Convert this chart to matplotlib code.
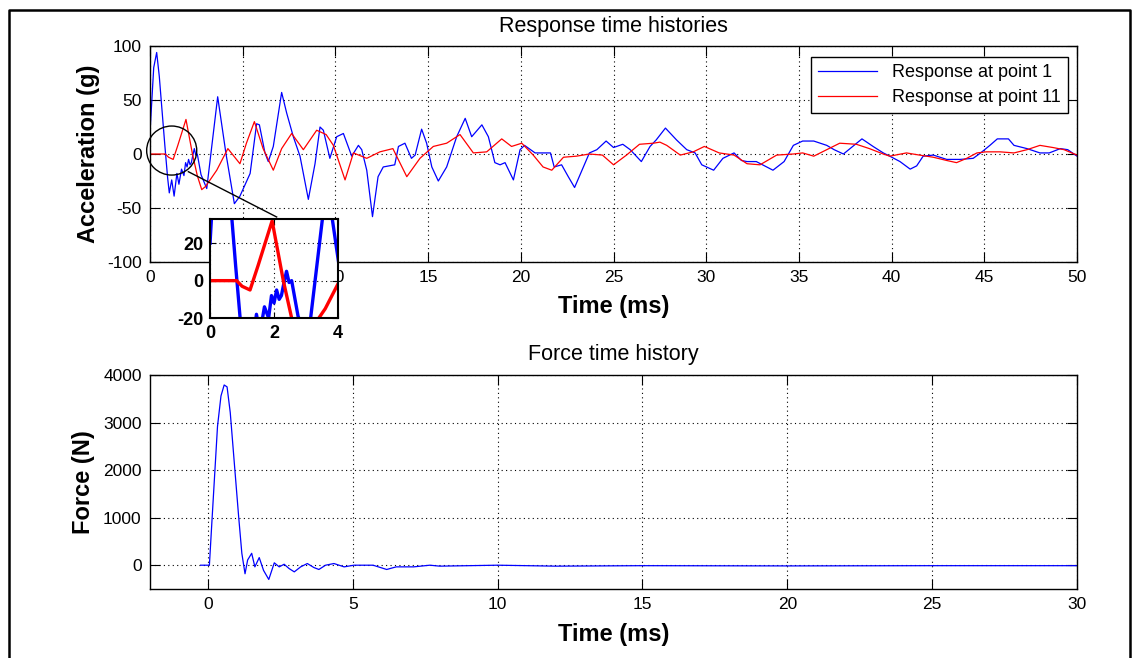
import matplotlib
matplotlib.use("Agg")
import matplotlib.pyplot as plt
from matplotlib.patches import Ellipse
from matplotlib.lines import Line2D

plt.rcParams["font.family"] = ["Liberation Sans", "DejaVu Sans"]
plt.rcParams["axes.unicode_minus"] = False

# acceleration at point 1 (g) vs time (ms)
t_p1 = [0.0, 0.05, 0.2, 0.36, 0.5, 0.65, 0.8, 0.95, 1.04, 1.17, 1.3, 1.45, 1.56, 1.7,
        1.83, 1.92, 2.0, 2.08, 2.16, 2.23, 2.3, 2.39, 2.47, 2.55, 2.75, 3.06, 3.65, 4.1,
        4.55, 4.85, 5.4, 5.75, 5.9, 6.2, 6.38, 6.65, 7.1, 7.37, 7.73, 8.09, 8.54, 8.9,
        9.17, 9.35, 9.7, 10.07, 10.43, 10.88, 11.24, 11.42, 11.69, 12.0, 12.3, 12.58,
        13.2, 13.4, 13.75, 14.1, 14.3, 14.65, 14.92, 15.2, 15.55, 16.0, 16.54, 17.0,
        17.35, 17.9, 18.25, 18.6, 18.88, 19.15, 19.6, 19.96, 20.2, 20.77, 21.6, 21.8,
        22.2, 22.56, 22.9, 23.3, 23.7, 24.1, 24.6, 25.0, 25.5, 25.9, 26.5, 26.97, 27.3,
        27.8, 28.4, 28.95, 29.4, 29.76, 30.4, 30.9, 31.5, 31.9, 32.2, 32.7, 33.6, 34.2,
        34.7, 35.2, 35.8, 36.5, 36.9, 37.4, 37.9, 38.4, 39.0, 39.55, 39.9, 40.45, 41.0,
        41.35, 41.7, 42.25, 42.97, 43.7, 44.4, 44.8, 45.3, 45.7, 46.3, 46.6, 47.3, 48.0,
        48.5, 49.1, 49.5, 50.0]
a_p1 = [20, 35, 80, 94, 72, 40, 8, -22, -36, -24, -39, -18, -28, -14,
        -20, -8, -12, -5, -10, -8, -2, 5, -1, 0, -19, -32, 53, 0,
        -46, -39, -18, 28, 27, 1, -7, 7, 57, 38, 16, -2, -42, -9,
        25, 22, -4, 16, 19, -2, 8, 4, -15, -58, -21, -12,
        -10, 7, 10, -4, -1, 23, 10, -12, -25, -12, 16, 33,
        16, 27, 16, -8, -10, -8, -24, 4, 8, 1, 1, -12,
        -10, -21, -31, -15, 1, 4, 12, 6, 9, 4, -7, 7, 13,
        24, 13, 4, 1, -10, -15, -4, 1, -6, -7, -7, -15, -7,
        8, 12, 12, 8, 4, 0, 7, 14, 7, 1, -2, -7, -14,
        -11, -2, -1, -5, -5, -4, 1, 8, 14, 14, 8, 5, 1,
        1, 5, 4, -2]

# acceleration at point 11 (g) vs time (ms)
t_p11 = [0.0, 0.83, 1.0, 1.25, 1.5, 1.94, 2.29, 2.55, 2.79, 3.0, 3.6, 4.2, 4.85, 5.2,
         5.63, 6.1, 6.65, 7.1, 7.64, 8.27, 8.99, 9.5, 9.89, 10.52, 10.97, 11.69, 12.4,
         13.1, 13.85, 14.56, 15.28, 16.0, 16.72, 17.44, 18.16, 18.97, 19.5, 20.05,
         20.67, 21.2, 21.67, 22.3, 23.0, 23.7, 24.4, 25.0, 25.7, 26.4, 27.15, 27.5,
         27.87, 28.6, 29.3, 29.9, 30.7, 31.5, 32.2, 32.9, 33.8, 34.7, 35.2, 35.8, 36.5,
         37.2, 38.1, 38.8, 39.55, 39.9, 40.8, 41.5, 42.25, 42.97, 43.5, 44.05, 44.6,
         45.1, 45.85, 46.6, 47.3, 48.0, 48.7, 49.3, 50.0]
a_p11 = [0, 0, -3, -5, 8, 32, 0, -20, -33, -30, -15, 5, -9, 10,
         30, 5, -15, 5, 19, 4, 22, 18, 8, -24, 1, -4, 2,
         5, -21, -4, 7, 10, 18, 1, 2, 14, 7, 10,
         -1, -12, -15, -3, -2, 0, -1, -10, -1, 9, 10, 11,
         8, -1, 2, 7, 1, -1, -9, -10, -1, 0, 1, -2, 4,
         10, 9, 5, 0, -2, 1, -1, -3, -6, -8, -4, 1,
         2, 2, 1, 4, 8, 6, 4, -1]

# impact force (N) vs time (ms)
t_force = [-0.25, 0.05, 0.14, 0.33, 0.45, 0.56, 0.66, 0.77, 0.91, 1.06, 1.17, 1.28, 1.37,
           1.51, 1.62, 1.77, 1.92, 2.1, 2.29, 2.46, 2.63, 2.8, 2.98, 3.2, 3.43, 3.66,
           3.83, 4.06, 4.35, 4.7, 5.04, 5.7, 6.17, 6.5, 7.1, 7.66, 8.0, 9.0, 10.0, 12.0,
           15.0, 20.0, 25.0, 30.0]
f_force = [0, 0, 950, 2920, 3560, 3790, 3750, 3210, 2150, 1020, 250, -180, 110,
           250, -35, 160, -110, -300, 50, -35, 20, -70, -140, -35, 35, -50,
           -90, 0, 35, -35, 0, 0, -90, -35, -35, 0, -20, -10, 0, -20,
           -10, -15, -10, -10]

BLUE = "#0000FF"
RED = "#FF0000"
GRID = dict(color="black", linestyle=(0, (1, 3)), linewidth=0.8)


def style_axes(ax, size=12.5):
    ax.grid(True, **GRID)
    ax.tick_params(direction="in", length=7, width=0.8, top=True, right=True,
                   labelsize=size, pad=6)
    for sp in ax.spines.values():
        sp.set_linewidth(1.0)


fig = plt.figure(figsize=(11.39, 6.58), dpi=100)

# response histories
ax1 = fig.add_axes([0.1317, 0.6018, 0.8139, 0.3283])
ax1.plot(t_p1, a_p1, color=BLUE, lw=0.9, label="Response at point 1")
ax1.plot(t_p11, a_p11, color=RED, lw=0.9, label="Response at point 11")
ax1.set_xlim(0, 50)
ax1.set_ylim(-100, 100)
ax1.set_xticks(range(0, 51, 5))
ax1.set_yticks([-100, -50, 0, 50, 100])
style_axes(ax1)
ax1.set_xlabel("Time (ms)", fontsize=17, fontweight="bold")
ax1.set_ylabel("Acceleration (g)", fontsize=17, fontweight="bold")
ax1.xaxis.set_label_coords(0.5, -0.155)
ax1.yaxis.set_label_coords(-0.054, 0.5)
ax1.text(0.5, 1.09, "Response time histories", transform=ax1.transAxes,
         ha="center", va="center", fontsize=15.5)
leg = ax1.legend(loc="upper right", bbox_to_anchor=(0.990, 0.950), fontsize=13,
                 fancybox=False, framealpha=1, edgecolor="black",
                 handlelength=3.3, borderaxespad=0, labelspacing=0.45)
leg.get_frame().set_linewidth(1.0)

# zoom marker and leader line
ax1.add_patch(Ellipse((1.17, 3.2), 2.7, 45.4, fill=False, ec="black", lw=1.0,
                      clip_on=False, zorder=5))
ax1.plot([2.07, 6.83], [-16.4, -58.3], color="black", lw=1.0, clip_on=False, zorder=5)

# inset of the first 4 ms
axi = fig.add_axes([0.1844, 0.5167, 0.1124, 0.1505])
axi.plot(t_p1, a_p1, color=BLUE, lw=2.4)
axi.plot(t_p11, a_p11, color=RED, lw=2.4)
axi.set_xlim(0, 4)
axi.set_ylim(-20, 33)
axi.set_xticks([0, 2, 4])
axi.set_yticks([-20, 0, 20])
axi.grid(True, **GRID)
axi.tick_params(direction="in", length=4, width=0.8, top=True, right=True,
                labelsize=13, pad=5)
for sp in axi.spines.values():
    sp.set_linewidth(1.5)
for lab in axi.get_xticklabels() + axi.get_yticklabels():
    lab.set_fontweight("bold")

# force history
ax2 = fig.add_axes([0.1317, 0.1049, 0.8139, 0.3252])
ax2.plot(t_force, f_force, color=BLUE, lw=0.9)
ax2.set_xlim(-2, 30)
ax2.set_ylim(-500, 4000)
ax2.set_xticks(range(0, 31, 5))
ax2.set_yticks([0, 1000, 2000, 3000, 4000])
style_axes(ax2)
ax2.set_xlabel("Time (ms)", fontsize=17, fontweight="bold")
ax2.set_ylabel("Force (N)", fontsize=17, fontweight="bold")
ax2.xaxis.set_label_coords(0.5, -0.161)
ax2.yaxis.set_label_coords(-0.059, 0.5)
ax2.text(0.5, 1.098, "Force time history", transform=ax2.transAxes,
         ha="center", va="center", fontsize=15.5)

# outer frame (open at the bottom)
xl, xr, yt = 9 / 1139, 1130 / 1139, 1 - 10 / 658
fig.add_artist(Line2D([xl, xl, xr, xr], [0, yt, yt, 0], transform=fig.transFigure,
                      color="black", lw=1.8))

fig.savefig("out.png", dpi=100, facecolor="white")
